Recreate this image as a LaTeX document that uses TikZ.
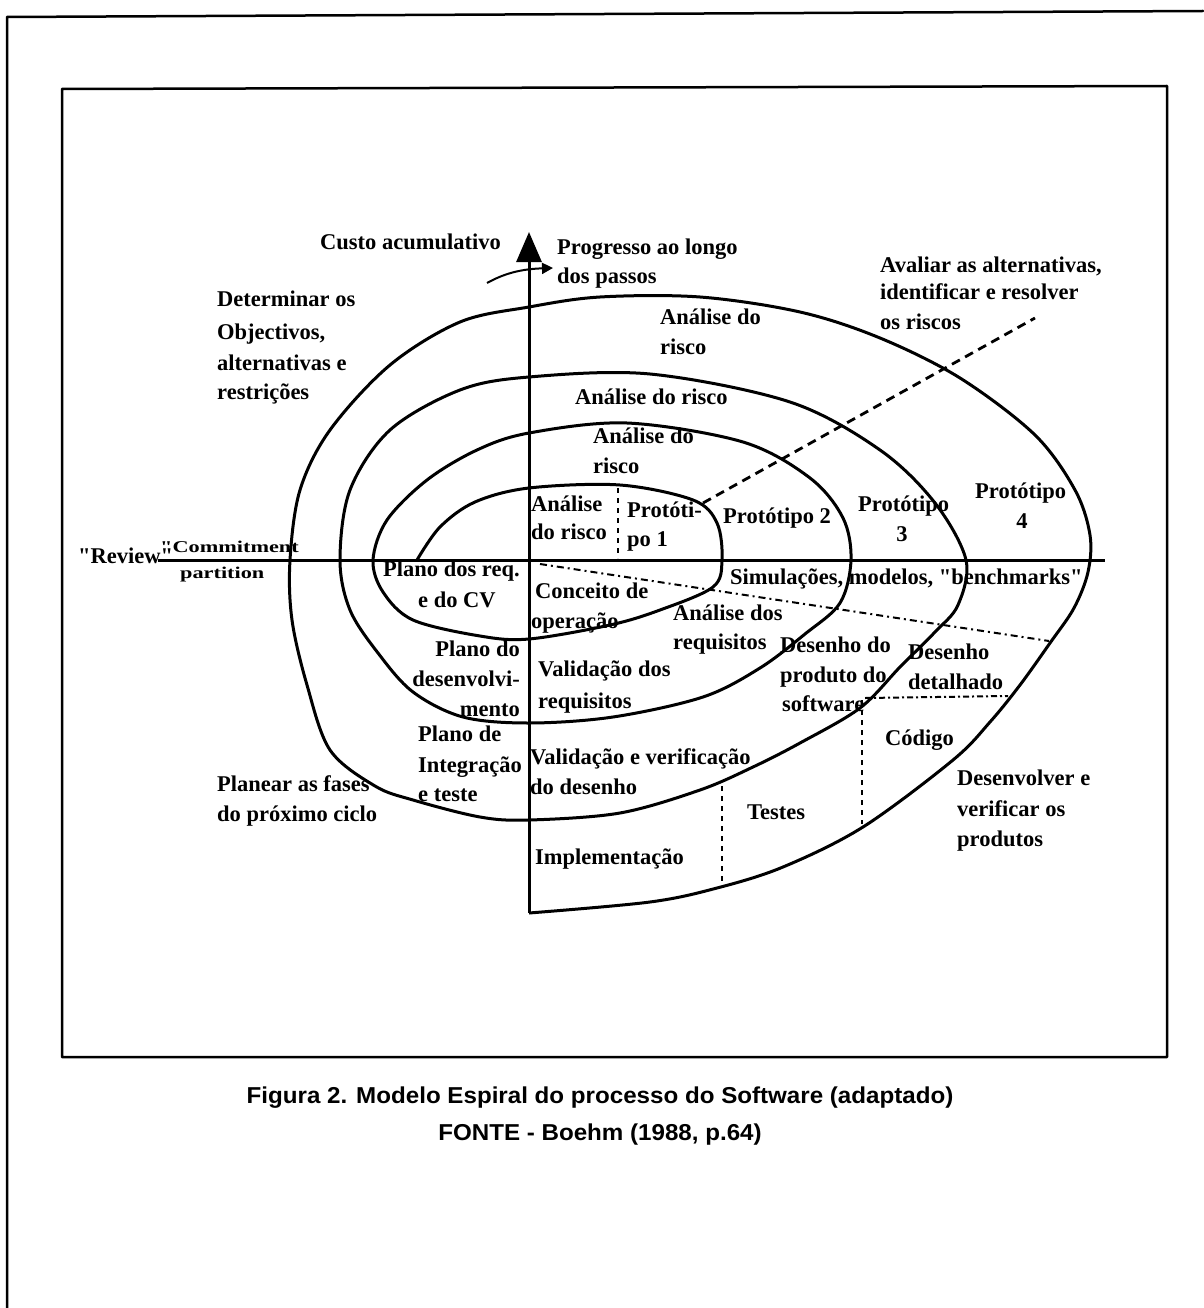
\documentclass[tikz,border=0pt]{standalone}
\usepackage{fontspec}
\newfontfamily\lblfont{Liberation Serif}
\newfontfamily\capfont[FakeStretch=1.05]{Liberation Sans}
\newfontfamily\widefont[FakeStretch=1.35]{Liberation Serif}
\usetikzlibrary{arrows.meta}

\begin{document}
\begin{tikzpicture}[x=1pt,y=-1pt,
  lbl/.style={inner sep=0pt, anchor=base west, font=\lblfont\fontsize{22.5}{30}\selectfont\bfseries},
  lblr/.style={lbl, anchor=base east},
  lblc/.style={lbl, anchor=base},
  small/.style={inner sep=0pt, anchor=base west, font=\widefont\fontsize{16.5}{20}\selectfont\bfseries},
  caption/.style={inner sep=0pt, anchor=base, font=\capfont\fontsize{23}{28}\selectfont\bfseries},
  frameline/.style={line width=2.5pt, line cap=round, line join=round},
  axis/.style={line width=3pt},
  spiral/.style={line width=3pt, line join=round},
  riskline/.style={line width=2.8pt, dash pattern=on 9pt off 6pt},
  simline/.style={line width=2pt, dash pattern=on 7pt off 4pt on 2pt off 4pt},
  splitline/.style={line width=2.5pt, dash pattern=on 5pt off 5pt},
  codeline/.style={line width=2pt, dash pattern=on 6pt off 3pt on 2pt off 3pt}]

\useasboundingbox (0,0) rectangle (1203,1308);
\fill[white] (0,0) rectangle (1203,1308);

% page frame and figure frame
\draw[frameline] (7,1308) -- (7,17) -- (1203,11);
\draw[frameline] (62,89) -- (1167,86) -- (1167,1057) -- (62,1057) -- cycle;

% axes
\coordinate (ytop) at (529,232);
\coordinate (ybot) at (529,913);
\coordinate (xleft) at (158,560);
\coordinate (xright) at (1105,560);
\draw[axis, -{Triangle[length=30pt,width=25pt]}] (ybot) -- (ytop);
\draw[axis] (xleft) -- (xright);

% progress arrow
\coordinate (pstart) at (487,283);
\coordinate (pend) at (553,268);
\draw[line width=2pt, -{Triangle[length=11pt,width=11pt]}] (pstart) .. controls (505,273) and (522,269) .. (pend);

% the spiral
\draw[spiral] plot[smooth, tension=0.55] coordinates {
  (417,560) (440,527) (475,502) (529,488) (620,485) (693,500) (717,523)
  (722,560) (713,587) (660,610) (610,625) (529,639) (480,636) (413,620)
  (383,592) (373,560) (387,520) (427,480) (477,450) (529,433) (627,423)
  (743,442) (810,478) (843,518) (851,560) (840,603) (805,634) (760,668)
  (703,697) (613,717) (529,723) (463,717) (413,692) (378,653) (350,610)
  (340,560) (350,490) (390,430) (460,390) (529,377) (650,374) (790,402)
  (880,450) (935,503) (966,560) (958,605) (935,632) (900,667) (860,708)
  (800,743) (753,767) (700,790) (620,813) (529,820) (480,817) (413,800)
  (375,786) (330,750) (307,685) (292,620) (290,560) (300,490) (330,430)
  (390,365) (460,322) (529,307) (600,297) (700,297) (800,312) (880,338)
  (960,378) (1035,435) (1075,490) (1090,535) (1088,572) (1074,608)
  (1050,643) (1020,685) (990,722) (953,760) (863,827) (783,867) (717,888)
  (650,902) (529,913)};

% risk analysis boundary
\coordinate (riskA) at (703,503);
\coordinate (riskB) at (1035,318);
\draw[riskline] (riskA) -- (riskB);

% simulation band boundary
\coordinate (simA) at (540,564);
\coordinate (simB) at (1049,641);
\draw[simline] (simA) -- (simB);

% phase separators
\coordinate (p1top) at (618,488);
\coordinate (p1bot) at (618,558);
\draw[splitline] (p1top) -- (p1bot);
\coordinate (ctop) at (862,700);
\coordinate (cbot) at (862,824);
\draw[splitline] (ctop) -- (cbot);
\coordinate (ttop) at (722,786);
\coordinate (tbot) at (722,882);
\draw[splitline] (ttop) -- (tbot);
\coordinate (dleft) at (865,698);
\coordinate (dright) at (1008,696);
\draw[codeline] (dleft) -- (dright);

% labels
\node[lbl] (custo) at (320,249) {Custo acumulativo};
\node[lbl] (prog1) at (557,254) {Progresso ao longo};
\node[lbl] (prog2) at (557,283) {dos passos};
\node[lbl] (aval1) at (880,272) {Avaliar as alternativas,};
\node[lbl] (aval2) at (880,299) {identificar e resolver};
\node[lbl] (aval3) at (880,329) {os riscos};
\node[lbl] (det1) at (217,306) {Determinar os};
\node[lbl] (det2) at (217,339) {Objectivos,};
\node[lbl] (det3) at (217,370) {alternativas e};
\node[lbl] (det4) at (217,399) {restrições};
\node[lbl] (ar4a) at (660,324) {Análise do};
\node[lbl] (ar4b) at (660,354) {risco};
\node[lbl] (ar3) at (575,404) {Análise do risco};
\node[lbl] (ar2a) at (593,443) {Análise do};
\node[lbl] (ar2b) at (593,473) {risco};
\node[lbl] (ar1a) at (531,511) {Análise};
\node[lbl] (ar1b) at (531,539) {do risco};
\node[lbl] (pt1a) at (627,517) {Protóti-};
\node[lbl] (pt1b) at (627,546) {po 1};
\node[lbl] (pt2) at (723,523) {Protótipo 2};
\node[lbl] (pt3a) at (858,511) {Protótipo};
\node[lblc] (pt3b) at (902,541) {3};
\node[lbl] (pt4a) at (975,498) {Protótipo};
\node[lblc] (pt4b) at (1022,528) {4};
\node[lbl] (review) at (78,563) {"Review"};
\node[small] (commit1) at (160,552) {"Commitment};
\node[small] (commit2) at (180,578) {partition};
\node[lbl] (preq1) at (383,576) {Plano dos req.};
\node[lbl] (preq2) at (418,607) {e do CV};
\node[lbl] (conc1) at (535,598) {Conceito de};
\node[lbl] (conc2) at (531,628) {operação};
\node[lbl] (simul) at (730,584) {Simulações, modelos, "benchmarks"};
\node[lbl] (areq1) at (673,620) {Análise dos};
\node[lbl] (areq2) at (673,649) {requisitos};
\node[lbl] (dprod1) at (780,652) {Desenho do};
\node[lbl] (dprod2) at (780,682) {produto do};
\node[lbl] (dprod3) at (782,711) {software};
\node[lbl] (ddet1) at (908,659) {Desenho};
\node[lbl] (ddet2) at (908,689) {detalhado};
\node[lblr] (pdes1) at (520,656) {Plano do};
\node[lblr] (pdes2) at (520,686) {desenvolvi-};
\node[lblr] (pdes3) at (520,716) {mento};
\node[lbl] (vreq1) at (538,676) {Validação dos};
\node[lbl] (vreq2) at (538,708) {requisitos};
\node[lbl] (pint1) at (418,741) {Plano de};
\node[lbl] (pint2) at (418,772) {Integração};
\node[lbl] (pint3) at (418,801) {e teste};
\node[lbl] (vver1) at (530,764) {Validação e verificação};
\node[lbl] (vver2) at (530,794) {do desenho};
\node[lbl] (codigo) at (885,745) {Código};
\node[lbl] (testes) at (747,819) {Testes};
\node[lbl] (impl) at (535,864) {Implementação};
\node[lbl] (dev1) at (957,785) {Desenvolver e};
\node[lbl] (dev2) at (957,816) {verificar os};
\node[lbl] (dev3) at (957,846) {produtos};
\node[lbl] (plan1) at (217,791) {Planear as fases};
\node[lbl] (plan2) at (217,821) {do próximo ciclo};

% caption
\node[caption] (cap1) at (600,1103) {Figura 2. Modelo Espiral do processo do Software (adaptado)};
\node[caption] (cap2) at (600,1140) {FONTE - Boehm (1988, p.64)};
\end{tikzpicture}
\end{document}
